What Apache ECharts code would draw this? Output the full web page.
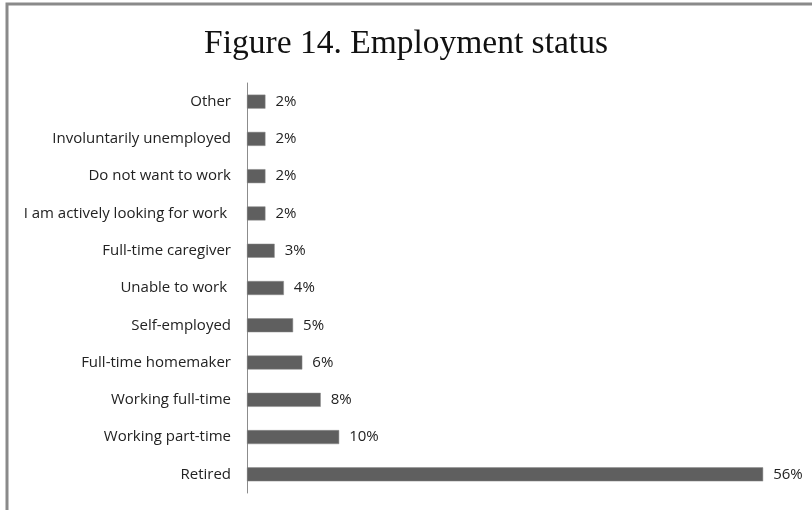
<!DOCTYPE html>
<html>
<head>
<meta charset="utf-8">
<script src="https://cdn.jsdelivr.net/npm/echarts@6/dist/echarts.min.js"></script>
<style>
  html, body { margin: 0; padding: 0; background: #ffffff; }
  #chart { width: 812px; height: 510px; }
</style>
</head>
<body>
<div id="chart"></div>
<script>
// Employment status, listed top to bottom
const categories = [
  'Other',
  'Involuntarily unemployed',
  'Do not want to work',
  'I am actively looking for work ',
  'Full-time caregiver',
  'Unable to work ',
  'Self-employed',
  'Full-time homemaker',
  'Working full-time',
  'Working part-time',
  'Retired'
];
const shares = [2, 2, 2, 2, 3, 4, 5, 6, 8, 10, 56];

const chart = echarts.init(document.getElementById('chart'), null, { renderer: 'canvas' });

chart.setOption({
  backgroundColor: '#ffffff',
  animation: false,
  title: {
    text: 'Figure 14. Employment status',
    left: 'center',
    top: 22,
    textStyle: {
      fontFamily: 'Liberation Serif',
      fontWeight: 'normal',
      fontSize: 33.5,
      color: '#111111'
    }
  },
  graphic: [{
    type: 'rect',
    shape: { x: 7, y: 4, width: 830, height: 540 },
    style: { fill: 'none', stroke: '#8a8a8a', lineWidth: 3 },
    silent: true
  }],
  grid: { left: 247, right: 12, top: 83, bottom: 17, containLabel: false },
  xAxis: {
    type: 'value',
    min: 0,
    max: 60,
    show: false
  },
  yAxis: {
    type: 'category',
    data: categories,
    inverse: true,
    axisLine: { show: true, lineStyle: { color: '#8c8c8c', width: 1 } },
    axisTick: { show: false },
    axisLabel: {
      margin: 16,
      fontFamily: 'Open Sans',
      fontSize: 15,
      color: '#222222'
    }
  },
  series: [{
    type: 'bar',
    data: shares,
    barWidth: 14,
    itemStyle: { color: '#5f5f5f', borderColor: '#8a8a8a', borderWidth: 0.5 },
    label: {
      show: true,
      position: 'right',
      distance: 10,
      formatter: '{c}%',
      fontFamily: 'Open Sans',
      fontSize: 15,
      color: '#222222'
    }
  }]
});
</script>
</body>
</html>
